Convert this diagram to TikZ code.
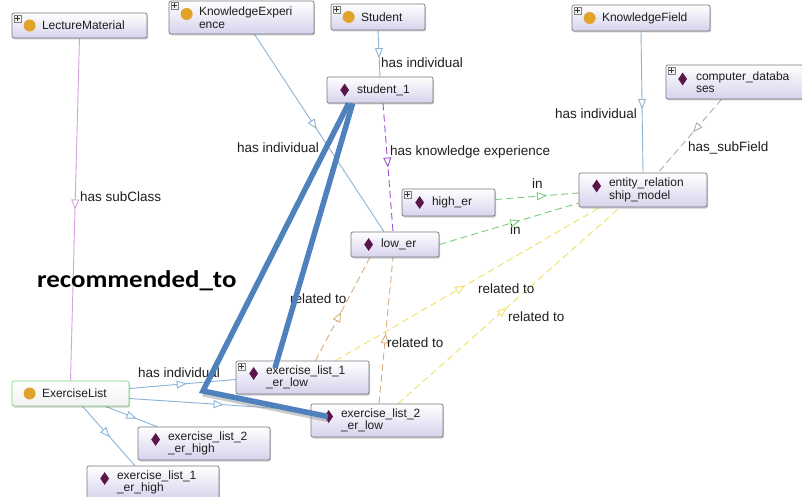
\documentclass[tikz,border=0pt]{standalone}
\usepackage{fontspec}
\setmainfont{Liberation Sans}
\newfontfamily\calib{Carlito}
\usetikzlibrary{arrows.meta,decorations.markings,calc,shadows,shapes.geometric}
\definecolor{nodebot}{RGB}{214,211,236}
\definecolor{nodeline}{RGB}{120,120,130}
\definecolor{indblue}{RGB}{140,180,215}
\definecolor{subpink}{RGB}{215,160,225}
\definecolor{kexp}{RGB}{160,80,210}
\definecolor{subgray}{RGB}{175,175,175}
\definecolor{ingreen}{RGB}{120,205,120}
\definecolor{reltan}{RGB}{215,175,130}
\definecolor{relyel}{RGB}{240,225,100}
\definecolor{recblue}{RGB}{79,129,189}
\definecolor{dia}{RGB}{90,22,75}
\definecolor{circ}{RGB}{224,164,42}
\definecolor{txt}{RGB}{30,30,30}
\definecolor{greenbd}{RGB}{130,210,130}
\newcommand{\ntxt}[2]{\hspace*{30pt}\parbox[c]{\dimexpr#1pt-30pt\relax}{\raggedright\fontsize{12}{12.5}\selectfont#2}}
\pgfdeclarelayer{bg}
\pgfsetlayers{bg,main}
\tikzset{
  ent/.style={draw=nodeline, line width=0.7pt, rounded corners=2pt, top color=white, bottom color=nodebot,
    inner sep=0pt, text=txt, drop shadow={shadow xshift=1pt, shadow yshift=-1.5pt, fill=black, opacity=0.2}},
  dmd/.style={diamond, fill=dia, inner sep=0pt, minimum width=9pt, minimum height=13pt},
  cir/.style={circle, fill=circ, inner sep=0pt, minimum size=12pt},
  plusb/.style={draw=gray, fill=gray!10, minimum size=7pt, inner sep=0pt, rounded corners=0pt,
    path picture={\draw[line width=0.6pt, black!80] (path picture bounding box.center) +(-2.3pt,0) -- +(2.3pt,0) +(0,-2.3pt) -- +(0,2.3pt);}},
  arr/.style={postaction={decorate, decoration={markings,
    mark=at position #1 with {\arrow{Triangle[fill=white, length=10pt, width=8pt]}}}}},
  arr/.default=0.5,
  edge/.style={line width=0.9pt},
  ind/.style={edge, draw=indblue},
  subc/.style={edge, draw=subpink},
  kx/.style={edge, draw=kexp, dash pattern=on 7pt off 4pt},
  sf/.style={edge, draw=subgray, dash pattern=on 7pt off 4pt},
  inn/.style={edge, draw=ingreen, dash pattern=on 7pt off 4pt},
  rtan/.style={edge, draw=reltan, dash pattern=on 7pt off 4pt},
  ryel/.style={edge, draw=relyel, dash pattern=on 7pt off 4pt},
  lbl/.style={font=\fontsize{13.5}{14}\selectfont, text=txt, inner sep=0pt, anchor=west},
  rec/.style={draw=recblue, line width=5.5pt, line join=miter, line cap=butt},
  recsh/.style={draw=black!40, line width=5pt, opacity=0.5},
}
\begin{document}
\begin{tikzpicture}[x=1pt,y=-1pt]
\useasboundingbox (0,0) rectangle (802,497);
% ---------- nodes ----------
\node[ent, minimum width=135pt, minimum height=25pt] (lm) at (79.5,25.5) {\ntxt{135}{LectureMaterial}};
\node[ent, minimum width=145pt, minimum height=33pt] (ke) at (241.5,17.5) {\ntxt{145}{KnowledgeExperi\\ence}};
\node[ent, minimum width=94pt, minimum height=26pt] (st) at (378,17) {\ntxt{94}{Student}};
\node[ent, minimum width=106pt, minimum height=26pt] (s1) at (380,90) {\ntxt{106}{student\_1}};
\node[ent, minimum width=138pt, minimum height=26pt] (kf) at (641,18) {\ntxt{138}{KnowledgeField}};
\node[ent, minimum width=137pt, minimum height=34pt] (cd) at (734.5,82) {\ntxt{137}{computer\_databa\\ses}};
\node[ent, minimum width=128pt, minimum height=34pt] (er) at (643,190) {\ntxt{128}{entity\_relation\\ship\_model}};
\node[ent, minimum width=93pt, minimum height=27pt] (high) at (448.5,202.5) {\ntxt{93}{high\_er}};
\node[ent, minimum width=88pt, minimum height=25pt] (low) at (395,244.5) {\ntxt{88}{low\_er}};
\node[ent, draw=greenbd, bottom color=gray!10, minimum width=117pt, minimum height=25pt] (el) at (70.5,393.5) {\ntxt{117}{ExerciseList}};
\node[ent, minimum width=133pt, minimum height=33pt] (el1l) at (302.5,377.5) {\ntxt{133}{exercise\_list\_1\\\_er\_low}};
\node[ent, minimum width=132pt, minimum height=33pt] (el2l) at (377,420.5) {\ntxt{132}{exercise\_list\_2\\\_er\_low}};
\node[ent, minimum width=132pt, minimum height=33pt] (el2h) at (204,443.5) {\ntxt{132}{exercise\_list\_2\\\_er\_high}};
\node[ent, minimum width=132pt, minimum height=33pt] (el1h) at (153,482.5) {\ntxt{132}{exercise\_list\_1\\\_er\_high}};
% ---------- icons ----------
\node[cir] (lmi) at ($(lm.west)+(18,0)$) {};
\node[cir] (kei) at ($(ke.west)+(18,-3.5)$) {};
\node[cir] (sti) at ($(st.west)+(18,0)$) {};
\node[dmd] (s1i) at ($(s1.west)+(18,0)$) {};
\node[cir] (kfi) at ($(kf.west)+(18,0)$) {};
\node[dmd] (cdi) at ($(cd.west)+(17,-3)$) {};
\node[dmd] (eri) at ($(er.west)+(18,-4)$) {};
\node[dmd] (highi) at ($(high.west)+(18,0)$) {};
\node[dmd] (lowi) at ($(low.west)+(18,0)$) {};
\node[cir] (eli) at ($(el.west)+(18,0)$) {};
\node[dmd] (d1l) at ($(el1l.west)+(18,-4)$) {};
\node[dmd] (d2l) at ($(el2l.west)+(18,-4)$) {};
\node[dmd] (d2h) at ($(el2h.west)+(18,-4)$) {};
\node[dmd] (d1h) at ($(el1h.west)+(18,-4)$) {};
\node[plusb] (lmp) at ($(lm.north west)+(6,6)$) {};
\node[plusb] (kep) at ($(ke.north west)+(6,5)$) {};
\node[plusb] (stp) at ($(st.north west)+(6,6)$) {};
\node[plusb] (kfp) at ($(kf.north west)+(6,6)$) {};
\node[plusb] (cdp) at ($(cd.north west)+(6,6)$) {};
\node[plusb] (highp) at ($(high.north west)+(6,6)$) {};
\node[plusb] (el1lp) at ($(el1l.north west)+(6,6)$) {};
% ---------- edges ----------
\begin{pgfonlayer}{bg}
\fill[white] (0,0) rectangle (802,497);
\draw[subc, arr=0.5] (lm.south) -- (el.north);
\draw[ind, arr=0.48] ($(ke.south)+(13,0)$) -- ($(low.north)+(-11,0)$);
\draw[ind, arr=0.6] (st.south) -- (s1.north);
\draw[kx, arr=0.5] ($(s1.south)+(3,0)$) -- ($(low.north)+(-2,0)$);
\draw[ind, arr=0.55] (kf.south) -- (er.north);
\draw[sf, arr=0.45] ($(cd.south)+(-13,0)$) -- ($(er.north)+(15,0)$);
\draw[inn, arr=0.62] ($(high.east)+(0,-3)$) -- ($(er.west)+(0,3)$);
\draw[inn, arr=0.58] (low.east) -- ($(er.west)+(0,13)$);
\draw[rtan, arr=0.47] ($(el1l.north)+(13,0)$) -- ($(low.south)+(-25,0)$);
\draw[rtan, arr=0.48] ($(el2l.north)+(2,0)$) -- ($(low.south)+(-2,0)$);
\draw[ryel, arr=0.49] ($(el1l.north)+(33,0)$) -- ($(er.south)+(-43,0)$);
\draw[ryel, arr=0.49] ($(el2l.north)+(21,0)$) -- ($(er.south)+(-23,0)$);
\draw[ind, arr=0.54] ($(el.east)+(0,-5)$) -- ($(el1l.west)+(0,2)$);
\draw[ind, arr=0.52] ($(el.east)+(0,5)$) -- ($(el2l.west)+(0,-10)$);
\draw[ind, arr=0.6] ($(el.south)+(35,0)$) -- ($(el2h.north)+(-47,0)$);
\draw[ind, arr=0.52] ($(el.south)+(12,0)$) -- ($(el1h.north)+(-18,0)$);
\end{pgfonlayer}
% ---------- edge labels ----------
\node[lbl] (t1) at (80,197) {has subClass};
\node[lbl] (t2) at (237,148) {has individual};
\node[lbl] (t3) at (381,63) {has individual};
\node[lbl] (t4) at (390,152) {has knowledge experience};
\node[lbl] (t5) at (555,114) {has individual};
\node[lbl] (t6) at (688,148) {has\_subField};
\node[lbl] (t7) at (532,184) {in};
\node[lbl] (t8) at (510,230) {in};
\node[lbl] (t9) at (290,299) {related to};
\node[lbl] (t10) at (387,343) {related to};
\node[lbl] (t11) at (478,289) {related to};
\node[lbl] (t12) at (508,317) {related to};
\node[lbl] (t13) at (138,373) {has individual};
\node[anchor=west, inner sep=0pt, font=\calib\bfseries\fontsize{24}{26}\selectfont] (rt) at (37,281) {\scalebox{1.12}[1]{recommended\_to}};
% ---------- recommended_to lines ----------
\coordinate (jn) at (203,391);
\coordinate (rs1) at ($(s1.south west)+(22,0)$);
\coordinate (rs2) at ($(s1.south west)+(26,0)$);
\coordinate (re1) at ($(el1l.center)+(-27.5,-9.5)$);
\coordinate (re2) at ($(d2l.center)+(-1,0)$);
\draw[recsh] ($(jn)+(0,3)$) -- ($(re2)+(0,3)$);
\draw[rec] (rs1) -- (jn) -- (re2);
\draw[rec] (rs2) -- (re1);
\end{tikzpicture}
\end{document}
